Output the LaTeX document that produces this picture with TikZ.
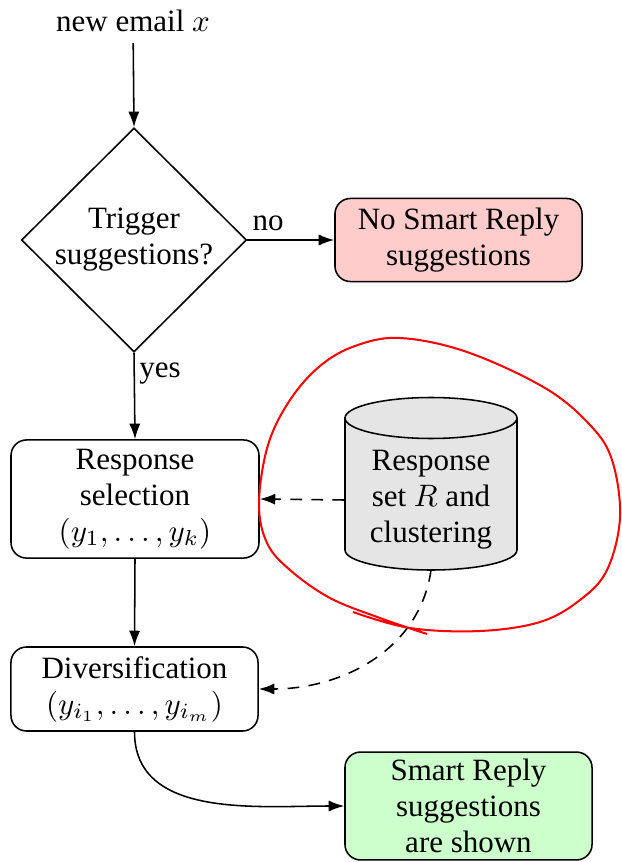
\documentclass[tikz,border=0pt]{standalone}
\usepackage[no-math]{fontspec}
\setmainfont{Liberation Serif}
\usetikzlibrary{shapes.geometric,arrows.meta}
\begin{document}
\begin{tikzpicture}[x=0.3226pt,y=0.3226pt,
  font=\fontsize{10}{11.6}\selectfont,
  line width=0.5pt,
  arr/.style={-{Latex[length=5pt,width=3.6pt]}},
  box/.style={draw, rounded corners=5pt, align=center, inner sep=0pt, minimum width=79.7pt},
  decision/.style={draw, diamond, aspect=1, inner sep=0pt, align=center, minimum width=72.6pt, minimum height=72.3pt},
  lbl/.style={inner sep=0pt},
  redmark/.style={red, line width=0.65pt}]
\useasboundingbox (0,0) rectangle (621,-862);

% nodes
\node (email) at (133,-21) {new email $x$};
\node[decision] (dia) at (134,-240) {Trigger\\suggestions?};
\node[box, fill=red!20, minimum height=26.8pt] (nosr) at (458.5,-240) {No Smart Reply\\suggestions};
\node[box, minimum height=38.1pt, minimum width=80pt] (resp) at (135,-499) {Response\\selection\\$(y_1,\ldots,y_k)$};
\node[box, minimum height=27.1pt] (div) at (134.5,-689) {Diversification\\$(y_{i_1},\ldots,y_{i_m})$};
\node[box, fill=green!20, minimum height=34.8pt] (sr) at (468.5,-806) {Smart Reply\\suggestions\\are shown};

% database cylinder
\draw[fill=gray!20] (345,-418) -- (345,-550)
  arc[start angle=180,end angle=360,x radius=27.74pt,y radius=6.45pt]
  -- (517,-418)
  arc[start angle=0,end angle=180,x radius=27.74pt,y radius=6.61pt] -- cycle;
\draw (345,-418) arc[start angle=180,end angle=360,x radius=27.74pt,y radius=6.61pt];
\node[align=center, inner sep=0pt, minimum width=55.5pt] (db) at (431,-500) {Response\\set $R$ and\\clustering};
\coordinate (dbbot) at (431,-570);

% connectors
\draw[arr] (email) -- (dia.north);
\draw[arr] (dia.east) -- (nosr.west);
\node[lbl] (no) at (268,-223) {no};
\draw[arr] (dia.south) -- (resp.north);
\node[lbl] (yes) at (160,-374) {yes};
\draw[arr, dashed, dash pattern=on 3.8pt off 3pt] (db.west) -- (resp.east);
\draw[arr] (resp.south) -- (div.north);
\draw[arr, dashed, dash pattern=on 3.8pt off 3pt] (dbbot) to[out=-98,in=0] (div.east);
\draw[arr] (div.south) to[out=-90,in=180] (sr.west);

% red hand-drawn mark
\draw[redmark] plot[smooth, tension=0.6] coordinates {
  (353,-612) (410,-628) (480,-631) (540,-622) (580,-600) (607,-570) (620,-517)
  (612,-460) (590,-425) (545,-388) (467,-352) (400,-338) (355,-346) (320,-366)
  (290,-400) (268,-445) (259,-503) (267,-543) (290,-570) (330,-598) (380,-618) (427,-634)};
\end{tikzpicture}
\end{document}
